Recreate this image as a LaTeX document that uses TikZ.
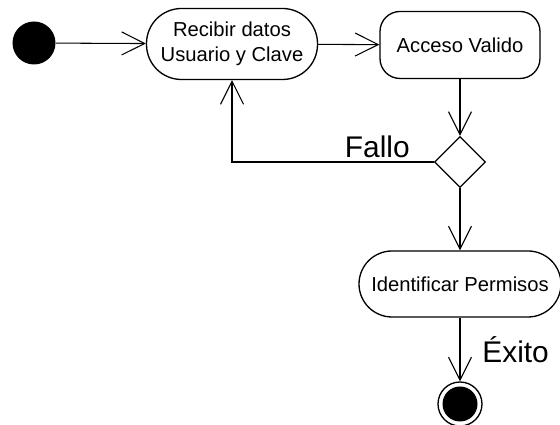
\documentclass[tikz,border=0pt]{standalone}
\usepackage{fontspec}
\setmainfont{Liberation Sans}
\usetikzlibrary{arrows.meta,shapes.geometric,positioning}

\begin{document}
\begin{tikzpicture}[
  every node/.style={font=\fontsize{11.5}{14.2}\selectfont},
  act/.style={rectangle, draw, line width=0.75pt, align=center, fill=white},
  arr/.style={-{Straight Barb[length=0.46cm, width=0.46cm]}, line width=0.6pt},
  lbl/.style={font=\fontsize{17}{19}\selectfont},
]
\useasboundingbox (0,0) rectangle (11.2,8.5);

\node[circle, fill=black, minimum size=0.86cm, inner sep=0] (inicio) at (0.68,7.64) {};

\node[act, rounded corners=0.7cm, minimum width=3.42cm, minimum height=1.42cm] (recibir)
  at (4.64,7.62) {Recibir datos\\Usuario y Clave};

\node[act, rounded corners=0.4cm, minimum width=3.2cm, minimum height=1.34cm] (acceso)
  at (9.2,7.6) {Acceso Valido};

\node[diamond, draw, line width=0.75pt, minimum width=1.02cm, minimum height=1.02cm,
      inner sep=0] (decision) at (9.2,5.26) {};

\node[act, rounded corners=0.66cm, minimum width=4.04cm, minimum height=1.32cm] (permisos)
  at (9.2,2.82) {Identificar Permisos};

\node[circle, draw, line width=0.75pt, minimum size=0.88cm, inner sep=0] (fin) at (9.2,0.42) {};
\node[circle, fill=black, minimum size=0.7cm, inner sep=0] (finc) at (fin) {};

\draw[arr] (inicio) -- (recibir);
\draw[arr] (recibir) -- (acceso);
\draw[arr] (acceso) -- (decision);
\draw[arr] (decision.west) -| node[lbl, pos=0.14, above=-1pt]{Fallo} (recibir.south);
\draw[arr] (decision) -- (permisos);
\draw[arr] (permisos) -- node[lbl, right=0.32cm]{Éxito} (fin);

\end{tikzpicture}
\end{document}
